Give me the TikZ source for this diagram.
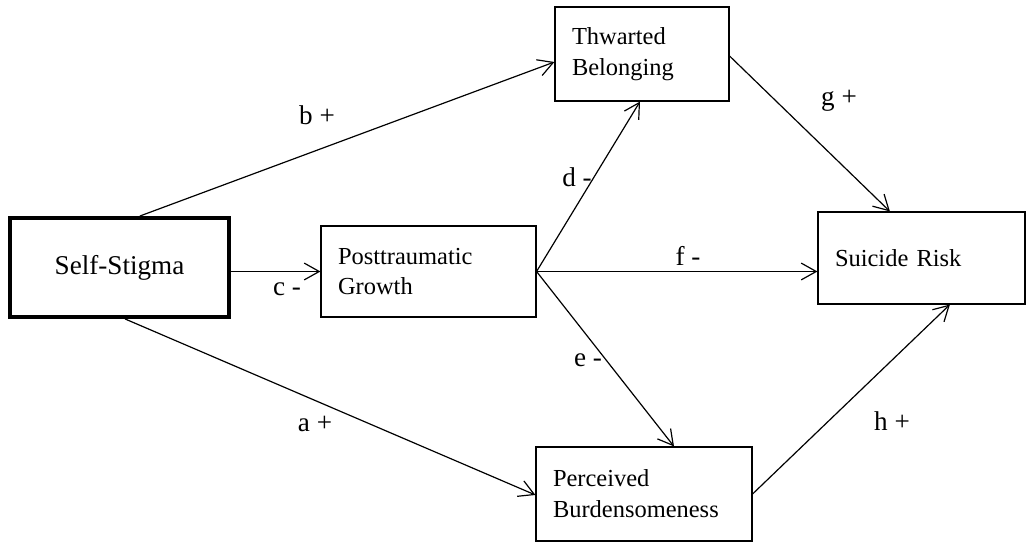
\documentclass[tikz,border=0pt]{standalone}
\usepackage{fontspec}
\setmainfont{Liberation Serif}
\usetikzlibrary{arrows.meta}

\tikzset{
  factor/.style={draw, rectangle, line width=.8pt, align=left, inner xsep=.425cm, inner ysep=0pt,
    font=\fontsize{17.4pt}{22pt}\selectfont},
  link/.style={-{Straight Barb[length=3.75mm,width=4.2mm]}, line width=.85pt},
  coef/.style={inner sep=0pt, font=\fontsize{19.3pt}{23pt}\selectfont}
}

\begin{document}
\begin{tikzpicture}

\useasboundingbox (0cm,0cm) rectangle (25.65cm,-13.55cm);

\node (ss) at(2.9875cm,-6.6875cm) [draw, rectangle, line width=2.8pt, minimum width=5.475cm, minimum height=2.475cm, font=\fontsize{19.3pt}{23pt}\selectfont] {Self-Stigma};
\node (pg) at(10.7125cm,-6.7875cm) [factor, text width=4.525cm, minimum height=2.275cm] {Posttraumatic\\Growth};
\node (tb) at(16.05cm,-1.35cm) [factor, text width=3.5cm, minimum height=2.35cm] {Thwarted\\Belonging};
\node (pb) at(16.1cm,-12.35cm) [factor, text width=4.55cm, minimum height=2.35cm] {Perceived\\Burdensomeness};
\node (sr) at(23.0375cm,-6.45cm) [factor, text width=4.325cm, minimum height=2.3cm] {Suicide Risk};

%-----------------------------------------------------
\draw [link] ([xshift=.51cm]ss.north) -- ([yshift=-.2cm]tb.west);
\draw [link] (ss.east |- pg.west) -- (pg.west);
\draw [link] ([xshift=.14cm]ss.south) -- ([yshift=-.025cm]pb.west);

\draw [link] (pg.east) -- ([xshift=-.05cm]tb.south);
\draw [link] (pg.east) -- (pg.east -| sr.west);
\draw [link] (pg.east) -- ([xshift=.75cm]pb.north);

\draw [link] ([yshift=-.05cm]tb.east) -- ([xshift=-.79cm]sr.north);
\draw [link] (pb.east) -- ([xshift=.71cm]sr.south);

%-----------------------------------------------------
\node (lb) at(7.925cm,-2.875cm) [coef] {b +};
\node (lc) at(7.175cm,-7.225cm) [coef] {c -};
\node (la) at(7.875cm,-10.6cm) [coef] {a +};
\node (ld) at(14.425cm,-4.425cm) [coef] {d -};
\node (lf) at(17.2cm,-6.4cm) [coef] {f -};
\node (le) at(14.7cm,-9cm) [coef] {e -};
\node (lg) at(20.975cm,-2.525cm) [coef] {g +};
\node (lh) at(22.3cm,-10.525cm) [coef] {h +};

\end{tikzpicture}
\end{document}
